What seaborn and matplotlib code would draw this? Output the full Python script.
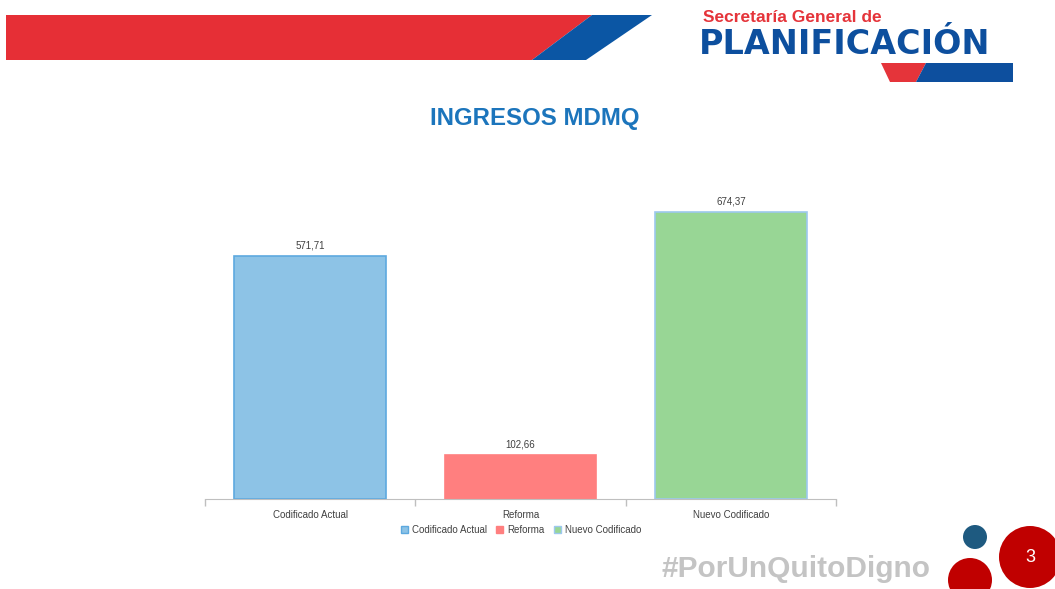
import matplotlib
matplotlib.use("Agg")
import matplotlib.pyplot as plt
import matplotlib.patches as mpatches
import seaborn as sns
import pandas as pd

# chart data
categorias = ["Codificado Actual", "Reforma", "Nuevo Codificado"]
montos = [571.71, 102.66, 674.37]
colores = ["#8DC3E6", "#FF7F7F", "#98D695"]
bordes = ["#5DA9DF", "#FF7F7F", "#9DC8EE"]

titulo = "INGRESOS MDMQ"
hashtag = "#PorUnQuitoDigno"
pagina = "3"

sns.set_style("white")
plt.rcParams["font.family"] = ["Liberation Sans", "DejaVu Sans"]

fig = plt.figure(figsize=(10.55, 5.89), dpi=100)
W, H = 1055, 589


def fx(x):
    return x / W


def fy(y):
    return 1 - y / H


def circulo(cx, cy, r, color):
    fig.patches.append(mpatches.Ellipse((fx(cx), fy(cy)), 2 * r / W, 2 * r / H,
                                        transform=fig.transFigure,
                                        facecolor=color, edgecolor="none"))


# header band
fig.patches.append(mpatches.Polygon(
    [(fx(6), fy(15)), (fx(592), fy(15)), (fx(532), fy(60)), (fx(6), fy(60))],
    closed=True, transform=fig.transFigure, facecolor="#E62F36", edgecolor="none"))
fig.patches.append(mpatches.Polygon(
    [(fx(592), fy(15)), (fx(652), fy(15)), (fx(586), fy(60)), (fx(532), fy(60))],
    closed=True, transform=fig.transFigure, facecolor="#0B56A4", edgecolor="none"))

# logo
fig.text(fx(703), fy(17), "Secretaría General de", color="#E5343A", fontsize=12.5,
         fontweight="bold", ha="left", va="center")
fig.text(fx(699), fy(45), "PLANIFICACIÓN", color="#0D4F9E", fontsize=24,
         fontweight="bold", ha="left", va="center", family="DejaVu Sans")
fig.patches.append(mpatches.Polygon(
    [(fx(881), fy(63)), (fx(926), fy(63)), (fx(916), fy(82)), (fx(890), fy(82))],
    closed=True, transform=fig.transFigure, facecolor="#E5343A", edgecolor="none"))
fig.patches.append(mpatches.Polygon(
    [(fx(926), fy(63)), (fx(1013), fy(63)), (fx(1013), fy(82)), (fx(916), fy(82))],
    closed=True, transform=fig.transFigure, facecolor="#0D4F9E", edgecolor="none"))

# title
fig.text(fx(535), fy(119), titulo, color="#1C75BC", fontsize=17.3,
         fontweight="bold", ha="center", va="center")

# chart
ax = fig.add_axes([fx(205), fy(499), fx(836) - fx(205), 340 / H])
df = pd.DataFrame({"categoria": categorias, "monto": montos})
sns.barplot(data=df, x="categoria", y="monto", hue="categoria", palette=colores,
            width=0.72, legend=False, ax=ax, saturation=1)

for bar, borde in zip(ax.patches, bordes):
    bar.set_edgecolor(borde)
    bar.set_linewidth(1.2)

for cont in ax.containers:
    ax.bar_label(cont, labels=[f"{v:.2f}".replace(".", ",") for v in cont.datavalues],
                 padding=4, fontsize=7, color="#404040")

ax.set_ylim(0, 800)
ax.set_xlim(-0.5, 2.5)
ax.set_xlabel("")
ax.set_ylabel("")
ax.set_yticks([])
for s in ["top", "right", "left"]:
    ax.spines[s].set_visible(False)
ax.spines["bottom"].set_color("#BFBFBF")
ax.tick_params(axis="x", which="major", length=0, labelsize=7, labelcolor="#404040", pad=8)
ax.set_xticks([-0.5, 0.5, 1.5, 2.5], minor=True)
ax.tick_params(axis="x", which="minor", bottom=True, length=5, color="#BFBFBF", width=1)

handles = [mpatches.Patch(facecolor=c, edgecolor=b, label=l)
           for c, b, l in zip(colores, bordes, categorias)]
fig.legend(handles=handles, loc="center", bbox_to_anchor=(fx(521), fy(530)), ncol=3,
           frameon=False, fontsize=7, labelcolor="#404040", handlelength=0.7,
           handleheight=0.7, handletextpad=0.4, columnspacing=1.0)

# footer
fig.text(fx(662), fy(569), hashtag, color="#C4C4C4", fontsize=21.5,
         fontweight="bold", ha="left", va="center")
circulo(975, 537, 12, "#1E5A80")
circulo(970, 580, 22, "#C00000")
circulo(1030, 557, 31, "#C00000")
fig.text(fx(1030), fy(557), pagina, color="white", fontsize=13, ha="center", va="center")

fig.savefig("out.png", dpi=100)
